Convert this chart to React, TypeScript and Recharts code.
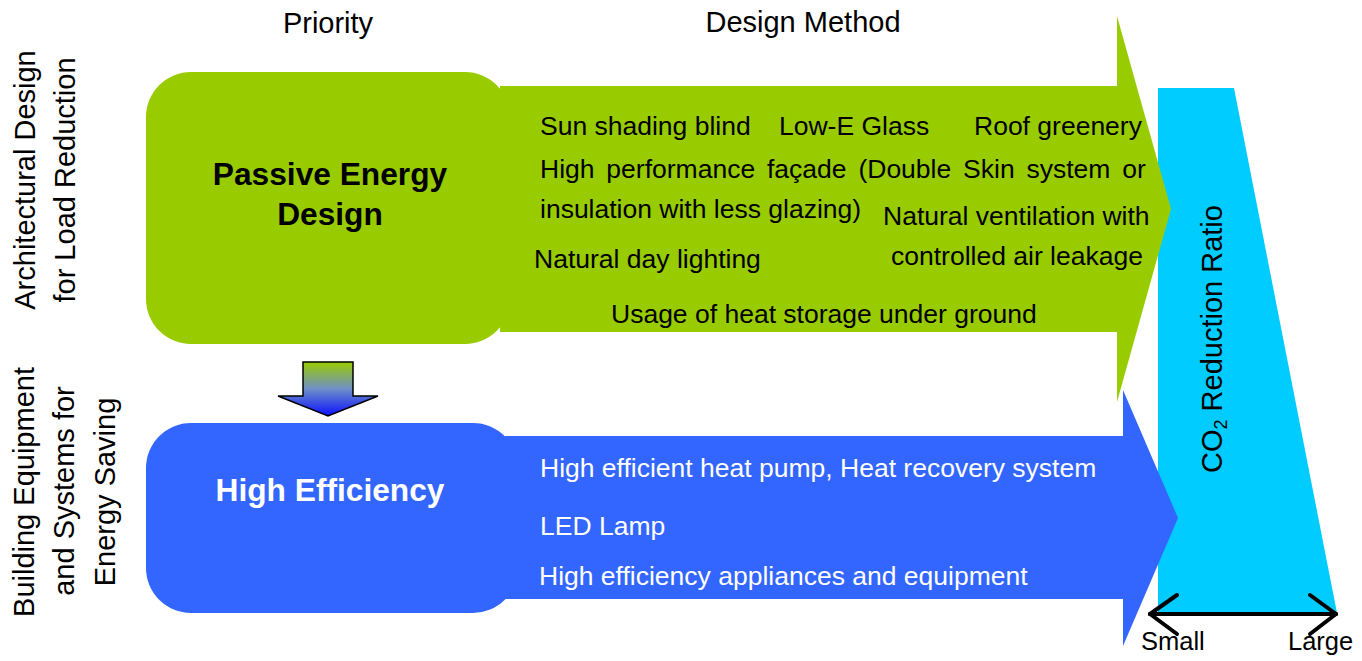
import React from 'react';
import { ScatterChart, Scatter, XAxis, YAxis, ReferenceArea, ReferenceLine } from 'recharts';

const W = 1362;
const H = 661;
const FONT = '"Liberation Sans", Arial, Helvetica, sans-serif';

const GREEN = '#99CC00';
const BLUE = '#3366FF';
const CYAN = '#00CCFF';

// ---- texts ----
const headers = ['Priority', 'Design Method'];
const sideLabels = ['Architectural Design', 'for Load Reduction', 'Building Equipment', 'and Systems for', 'Energy Saving'];
const priorities = ['Passive Energy', 'Design', 'High Efficiency'];
const passiveMethods = [
    'Sun shading blind',
    'Low-E Glass',
    'Roof greenery',
    'High performance façade (Double Skin system or',
    'insulation with less glazing)',
    'Natural ventilation with',
    'Natural day lighting',
    'controlled air leakage',
    'Usage of heat storage under ground',
];
const efficiencyMethods = [
    'High efficient heat pump, Heat recovery system',
    'LED Lamp',
    'High efficiency appliances and equipment',
];
const scaleEnds = ['Small', 'Large'];

// ---- layout (x, baseline y) ----
const headerAt = [[328, 33], [803, 32]];
const sideAt = [[35, 180], [75, 180], [34, 492], [74, 491], [115, 492]];
const priorityAt = [[330, 185], [330, 225], [330, 501]];
const passiveAt = [[540, 135], [779, 135], [974, 135], [540, 178], [540, 218], [883, 225], [534, 268], [891, 265], [611, 323]];
const passiveSpacing = [0, 0, 0, 4.5, 0, 0, 0, 0, 0];
const efficiencyAt = [[540, 477], [540, 535], [539, 585]];
const scaleTitleAt = [[1222, 339]];
const scaleEndAt = [[1141, 650], [1288, 650]];

type Pt = [number, number];

// ---- shapes ----
const cyanBand: Pt[] = [[1158, 88], [1234, 88], [1337, 613], [1158, 613]];
const greenArrow: Pt[] = [[500, 86], [1117, 86], [1117, 16], [1171, 209], [1117, 402], [1117, 332], [500, 332]];
const blueArrow: Pt[] = [[505, 436], [1123, 436], [1123, 390], [1178, 518], [1123, 646], [1123, 599], [505, 599]];
const downArrow: Pt[] = [[303, 362], [353, 362], [353, 396], [378, 396], [328, 416], [278, 396], [303, 396]];
const greenBox = { x1: 146, x2: 510, y1: 72, y2: 344 };
const blueBox = { x1: 146, x2: 518, y1: 423, y2: 613 };

const scaleLine: Pt[][] = [
    [[1150, 614], [1336, 614]],
    [[1150, 614], [1177, 595]],
    [[1150, 614], [1177, 634]],
    [[1336, 614], [1310, 595]],
    [[1336, 614], [1310, 634]],
];

const points = (texts: string[], at: number[][], spacing?: number[]) =>
    texts.map((text, i) => ({ x: at[i][0], y: at[i][1], text, spacing: spacing ? spacing[i] : 0 }));

const bbox = (pts: Pt[]) => {
    const xs = pts.map((p) => p[0]);
    const ys = pts.map((p) => p[1]);
    return { x1: Math.min(...xs), x2: Math.max(...xs), y1: Math.min(...ys), y2: Math.max(...ys) };
};

const polygonArea = (key: string, pts: Pt[], fill: string, extra?: { stroke?: string; gradient?: [string, string, string] }) => {
    const b = bbox(pts);
    const shape = (props: any) => {
        const { x, y, width, height } = props;
        const p = pts
            .map(([px, py]) => `${x + ((px - b.x1) / (b.x2 - b.x1)) * width},${y + ((py - b.y1) / (b.y2 - b.y1)) * height}`)
            .join(' ');
        if (extra && extra.gradient) {
            const id = `grad-${key}`;
            return (
                <g>
                    <defs>
                        <linearGradient id={id} x1="0" y1="0" x2="0" y2="1">
                            <stop offset="0%" stopColor={extra.gradient[0]} />
                            <stop offset="50%" stopColor={extra.gradient[1]} />
                            <stop offset="100%" stopColor={extra.gradient[2]} />
                        </linearGradient>
                    </defs>
                    <polygon points={p} fill={`url(#${id})`} stroke={extra.stroke} strokeWidth={1.5} strokeLinejoin="miter" />
                </g>
            );
        }
        return <polygon points={p} fill={fill} />;
    };
    return <ReferenceArea key={key} {...b} ifOverflow="visible" shape={shape} />;
};

const roundedArea = (key: string, box: { x1: number; x2: number; y1: number; y2: number }, fill: string) => (
    <ReferenceArea
        key={key}
        {...box}
        ifOverflow="visible"
        shape={(props: any) => <rect x={props.x} y={props.y} width={props.width} height={props.height} rx={45} ry={45} fill={fill} />}
    />
);

const textShape = (size: number, fill: string, opts: { anchor?: string; weight?: string; rotate?: boolean } = {}) => (props: any) => {
    const { cx, cy, payload } = props;
    return (
        <text
            x={cx}
            y={cy}
            fontFamily={FONT}
            fontSize={size}
            fontWeight={opts.weight || 'normal'}
            fill={fill}
            textAnchor={opts.anchor || 'start'}
            transform={opts.rotate ? `rotate(-90 ${cx} ${cy})` : undefined}
            style={payload.spacing ? { wordSpacing: `${payload.spacing}px` } : undefined}
        >
            {payload.text}
        </text>
    );
};

const co2Shape = (props: any) => {
    const { cx, cy } = props;
    return (
        <text x={cx} y={cy} fontFamily={FONT} fontSize={29} fill="#000" textAnchor="middle" transform={`rotate(-90 ${cx} ${cy})`}>
            <tspan>CO</tspan>
            <tspan fontSize={18} dy={5}>2</tspan>
            <tspan dy={-5}>{' Reduction Ratio'}</tspan>
        </text>
    );
};

export default function App() {
    return (
        <div style={{ position: 'absolute', left: 0, top: 0, width: W, height: H, background: '#fff' }}>
            <ScatterChart width={W} height={H} margin={{ top: 0, right: 0, bottom: 0, left: 0 }}>
                <XAxis type="number" dataKey="x" domain={[0, W]} hide allowDataOverflow />
                <YAxis type="number" dataKey="y" domain={[0, H]} hide reversed allowDataOverflow />

                {polygonArea('cyan', cyanBand, CYAN)}
                {roundedArea('greenBox', greenBox, GREEN)}
                {polygonArea('greenArrow', greenArrow, GREEN)}
                {roundedArea('blueBox', blueBox, BLUE)}
                {polygonArea('blueArrow', blueArrow, BLUE)}
                {polygonArea('down', downArrow, GREEN, { stroke: '#000', gradient: ['#99CC00', '#6E8FC8', '#0A10FF'] })}

                {scaleLine.map((seg, i) => (
                    <ReferenceLine
                        key={`s${i}`}
                        segment={[{ x: seg[0][0], y: seg[0][1] }, { x: seg[1][0], y: seg[1][1] }]}
                        stroke="#000"
                        strokeWidth={4}
                        strokeLinecap="round"
                        ifOverflow="visible"
                    />
                ))}

                <Scatter data={points(headers, headerAt)} shape={textShape(29, '#000', { anchor: 'middle' })} isAnimationActive={false} />
                <Scatter data={points(sideLabels, sideAt)} shape={textShape(29, '#000', { anchor: 'middle', rotate: true })} isAnimationActive={false} />
                <Scatter data={points(priorities.slice(0, 2), priorityAt.slice(0, 2))} shape={textShape(31.7, '#000', { anchor: 'middle', weight: 'bold' })} isAnimationActive={false} />
                <Scatter data={points(priorities.slice(2), priorityAt.slice(2))} shape={textShape(31.7, '#fff', { anchor: 'middle', weight: 'bold' })} isAnimationActive={false} />
                <Scatter data={points(passiveMethods, passiveAt, passiveSpacing)} shape={textShape(26.5, '#000')} isAnimationActive={false} />
                <Scatter data={points(efficiencyMethods, efficiencyAt)} shape={textShape(26.5, '#fff')} isAnimationActive={false} />
                <Scatter data={points(['CO2 Reduction Ratio'], scaleTitleAt)} shape={co2Shape} isAnimationActive={false} />
                <Scatter data={points(scaleEnds, scaleEndAt)} shape={textShape(25.5, '#000')} isAnimationActive={false} />
            </ScatterChart>
        </div>
    );
}
